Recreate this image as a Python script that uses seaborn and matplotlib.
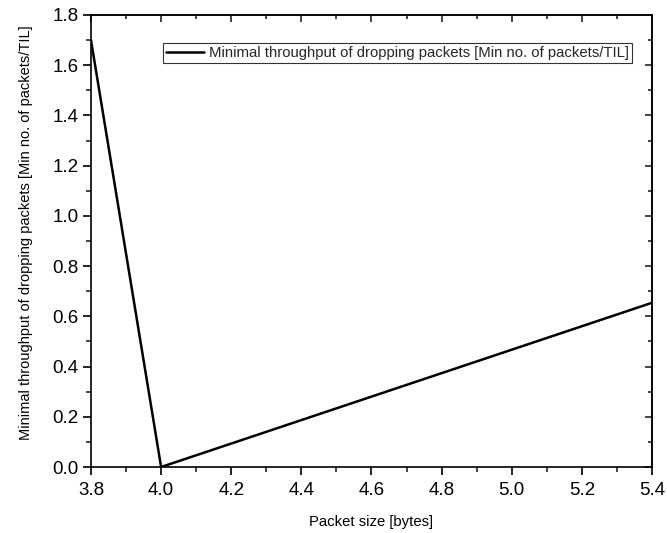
import matplotlib
matplotlib.use("Agg")
import matplotlib.pyplot as plt
import seaborn as sns
import pandas as pd
from matplotlib.ticker import MultipleLocator, FormatStrFormatter

# Packet size vs. minimal throughput of dropping packets
packet_size = [3.8, 4.0, 5.4]
min_throughput = [1.7, 0.0, 0.654]
series_label = "Minimal throughput of dropping packets [Min no. of packets/TIL]"

sns.set_theme(style="ticks")
plt.rcParams['font.family'] = ['Liberation Sans', 'DejaVu Sans']

df = pd.DataFrame({"size": packet_size, "thr": min_throughput})

fig = plt.figure(figsize=(6.67, 5.33), dpi=100)
ax = fig.add_axes([0.1364, 0.1238, 0.8411, 0.8481])

sns.lineplot(data=df, x="size", y="thr", color="black", linewidth=1.8,
             label=series_label, ax=ax, sort=False)

ax.set_xlim(3.8, 5.4)
ax.set_ylim(0.0, 1.8)
ax.xaxis.set_major_locator(MultipleLocator(0.2))
ax.xaxis.set_minor_locator(MultipleLocator(0.1))
ax.yaxis.set_major_locator(MultipleLocator(0.2))
ax.yaxis.set_minor_locator(MultipleLocator(0.1))
ax.xaxis.set_major_formatter(FormatStrFormatter('%.1f'))
ax.yaxis.set_major_formatter(FormatStrFormatter('%.1f'))

for s in ax.spines.values():
    s.set_linewidth(1.2)
    s.set_color("black")

ax.tick_params(axis="both", which="major", direction="out", length=6, width=1.2,
               labelsize=13.5, colors="black", pad=3)
ax.tick_params(axis="x", which="major", pad=5)
ax.tick_params(axis="both", which="minor", direction="out", length=3.5, width=1.2)

# inward ticks mirrored on the top and right spines
secx = ax.secondary_xaxis("top")
secx.xaxis.set_major_locator(MultipleLocator(0.2))
secx.xaxis.set_minor_locator(MultipleLocator(0.1))
secx.tick_params(which="major", direction="in", length=5, width=1.2, labeltop=False)
secx.tick_params(which="minor", direction="in", length=3, width=1.2)
secy = ax.secondary_yaxis("right")
secy.yaxis.set_major_locator(MultipleLocator(0.2))
secy.yaxis.set_minor_locator(MultipleLocator(0.1))
secy.tick_params(which="major", direction="in", length=5, width=1.2, labelright=False)
secy.tick_params(which="minor", direction="in", length=3, width=1.2)

ax.set_xlabel("Packet size [bytes]", fontsize=10.7, color="black")
ax.set_ylabel(series_label, fontsize=10.5, color="black")
ax.xaxis.set_label_coords(0.5, -0.106)
ax.yaxis.set_label_coords(-0.103, 0.518)

leg = ax.legend(loc="upper right", bbox_to_anchor=(0.964, 0.938), fontsize=10.7,
                frameon=True, fancybox=False, borderpad=0.2, handlelength=2.6,
                handletextpad=0.3, borderaxespad=0)
leg.get_frame().set_edgecolor("black")
leg.get_frame().set_linewidth(0.8)

fig.savefig("out.png", dpi=100)
